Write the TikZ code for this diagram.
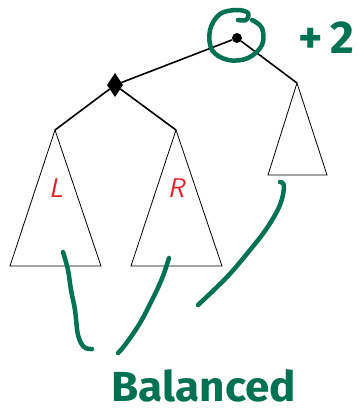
\documentclass[tikz,border=0pt]{standalone}
\usepackage{xcolor}
\usepackage{fontspec}
\usepackage{tikz}
\usetikzlibrary{shapes.geometric}
\definecolor{inkgreen}{RGB}{0,114,82}
\definecolor{labelred}{RGB}{232,30,40}
\newfontfamily\handfont{Fira Sans}

\begin{document}
\begin{tikzpicture}[x=1pt,y=-1pt]
\useasboundingbox (0,0) rectangle (360,413);
\tikzset{
  edge/.style={line width=1.6pt, black},
  subtree/.style={line width=0.8pt, black, line join=miter},
  ink/.style={line width=4.5pt, inkgreen, line cap=round, line join=round},
  sublabel/.style={text=labelred, font=\sffamily\itshape\fontsize{27}{27}\selectfont}
}
% tree
\node[circle, fill=black, inner sep=0pt, minimum size=10pt] (root) at (237,38) {};
\node[diamond, fill=black, inner sep=0pt, minimum width=16pt, minimum height=24pt] (pivot) at (115,85) {};
\coordinate (ltop) at (55,130);
\coordinate (mtop) at (176,130);
\coordinate (rtop) at (297,83);
\draw[edge] (root) -- (pivot);
\draw[edge] (root) -- (rtop);
\draw[edge] (pivot) -- (ltop);
\draw[edge] (pivot) -- (mtop);
\draw[subtree] (ltop) -- (10,266) -- (101,266) -- cycle;
\draw[subtree] (mtop) -- (131,266) -- (222,266) -- cycle;
\draw[subtree] (rtop) -- (268,175) -- (327,175) -- cycle;
\node[sublabel] (lname) at (56,188) {L};
\node[sublabel] (rname) at (176,188) {R};
% annotations
\draw[ink] plot[smooth, tension=0.6] coordinates {(238,20) (246,20) (248,13) (237,10) (220,14) (210,30) (212,50) (228,60) (248,58) (262,45) (262,28) (252,20)};
\node[text=inkgreen, font=\handfont\bfseries\fontsize{46}{46}\selectfont] (bf) at (326,38) {+\,2};
\draw[ink] plot[smooth, tension=0.6] coordinates {(63,252) (68,270) (71,290) (75,310) (78,335) (84,347) (92,349)};
\draw[ink] plot[smooth, tension=0.6] coordinates {(169,258) (163,276) (155,294) (140,323) (125,345) (118,353)};
\draw[ink] plot[smooth, tension=0.6] coordinates {(280,182) (284,186) (280,205) (267,228) (250,250) (227,277) (198,305)};
\node[text=inkgreen, font=\handfont\bfseries\fontsize{42}{42}\selectfont, xscale=1.05, inner sep=0pt] (tag) at (204,386) {Balanced};
\end{tikzpicture}
\end{document}
